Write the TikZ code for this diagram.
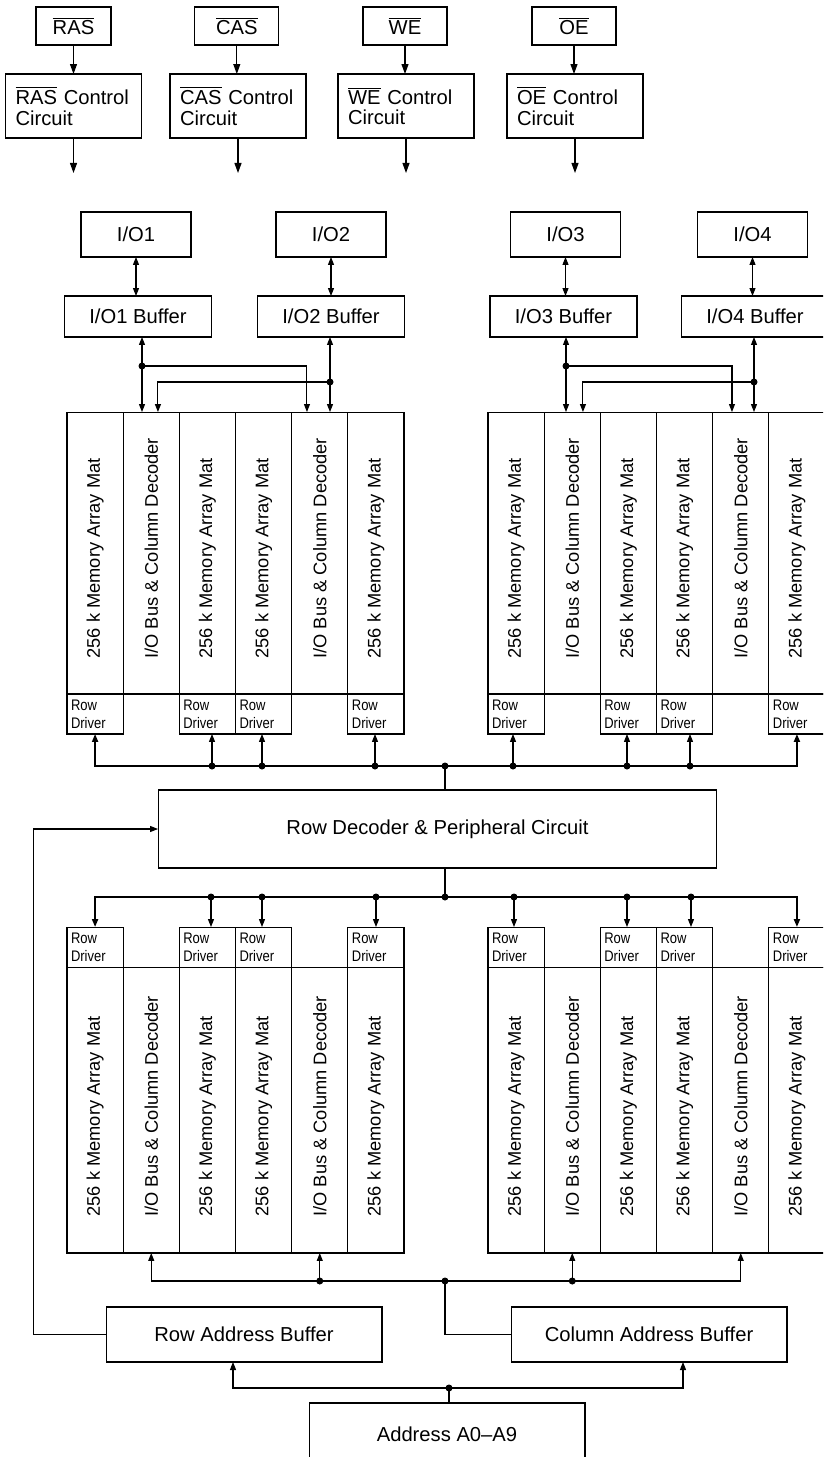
\documentclass[tikz,border=0pt]{standalone}
\usepackage{fontspec}
\setmainfont{Liberation Sans}
\newfontfamily\narrowfont[FakeStretch=0.85]{Liberation Sans}
\usetikzlibrary{arrows.meta}
\def\ov#1{$\overline{\mbox{#1}}$}
\def\mattxt{256 k Memory Array Mat}
\def\dectxt{I/O Bus \& Column Decoder}

\begin{document}
\begin{tikzpicture}[x=0.02cm, y=-0.02cm, line width=0.6pt,
	>={Triangle[length=1.6mm, width=1.2mm]},
	bigtip/.style={-{Triangle[length=2mm, width=1.4mm]}},
	box/.style={draw, inner sep=0pt, outer sep=0pt, font=\fontsize{11.5}{11.8}\selectfont},
	sig/.style={box, minimum width=1.68cm, minimum height=0.76cm},
	ctl/.style={box, align=left, text width=2.32cm, inner xsep=0.2cm, minimum height=1.28cm},
	io/.style={box, minimum width=2.2cm, minimum height=0.9cm},
	buf/.style={box, minimum width=2.94cm, minimum height=0.82cm},
	colup/.style={box, minimum width=1.1234cm, minimum height=5.64cm},
	collo/.style={box, minimum width=1.1234cm, minimum height=5.72cm},
	coltxt/.style={rotate=90, anchor=west, inner sep=0pt, font=\fontsize{10.4}{12}\selectfont},
	rd/.style={box, align=left, text width=0.963cm, inner xsep=0.08cm, minimum height=0.8cm,
		font=\narrowfont\fontsize{8.7}{10.2}\selectfont},
	abuf/.style={box, minimum width=5.52cm, minimum height=1.1cm},
	bus/.style={line width=1.1pt},
	dot/.style={fill=black}]
			%%%%% START %%%%%
			\useasboundingbox (0,0) rectangle (823,1457);
			\clip (0,0) rectangle (823,1457);
			
			% control inputs
			\node[sig, minimum width=1.5cm] (ras) at (73.5,26) {\ov{RAS}};
			\node[sig] (cas) at (236.8,26) {\ov{CAS}};
			\node[sig] (we) at (405,26) {\ov{WE}};
			\node[sig] (oe) at (574,26) {\ov{OE}};
			
			\node[ctl] (ctlras) at (73.5,106) {\ov{RAS} Control\\Circuit};
			\node[ctl] (ctlcas) at (238,106) {\ov{CAS} Control\\Circuit};
			\node[ctl] (ctlwe) at (406,106) {\ov{WE} Control\\Circuit};
			\node[ctl] (ctloe) at (575,106) {\ov{OE} Control\\Circuit};
			
			\foreach \s in {ras,cas,we,oe} {
				\draw[bigtip] (\s.south) -- (\s.south |- ctl\s.north);
				\draw[bigtip] (ctl\s.south) -- ++(0,35) coordinate (out\s);
			}
			
			% I/O pins and buffers
			\node[io] (io1) at (136,234.5) {I/O1};
			\node[io] (io2) at (331,234.5) {I/O2};
			\node[io] (io3) at (565.5,234.5) {I/O3};
			\node[io] (io4) at (752.5,234.5) {I/O4};
			
			\node[buf] (buf1) at (138,316.5) {I/O1 Buffer};
			\node[buf] (buf2) at (331,316.5) {I/O2 Buffer};
			\node[buf] (buf3) at (563.5,316.5) {I/O3 Buffer};
			\node[buf] (buf4) at (755,316.5) {I/O4 Buffer};
			
			\foreach \n in {1,...,4}
				\draw[<->] (io\n.south) -- (io\n.south |- buf\n.north);
			
			% memory mats
			\foreach \side/\bx in {l/67, r/488} {
				\foreach \i/\txt in {1/\mattxt, 2/\dectxt, 3/\mattxt, 4/\mattxt, 5/\dectxt, 6/\mattxt} {
					\node[colup] (up\side\i) at ({\bx+(\i-0.5)*56.17},553) {};
					\node[coltxt] (tup\side\i) at ([yshift=0.7cm]up\side\i.south) {\txt};
					\node[collo] (lo\side\i) at ({\bx+(\i-0.5)*56.17},1110) {};
					\node[coltxt] (tlo\side\i) at ([yshift=0.72cm]lo\side\i.south) {\txt};
				}
				\foreach \i in {1,3,4,6} {
					\node[rd, anchor=north] (rdup\side\i) at (up\side\i.south) {Row\\Driver};
					\node[rd, anchor=south] (rdlo\side\i) at (lo\side\i.north) {Row\\Driver};
				}
			}
			
			% buffers to I/O bus
			\coordinate (j1) at (142,366);
			\coordinate (j2) at (330,382);
			\coordinate (j3) at (566,366);
			\coordinate (j4) at (754,382);
			\draw[<->] (buf1.south -| j1) -- (j1 |- upl2.north);
			\draw[<->] (buf2.south -| j2) -- (j2 |- upl5.north);
			\draw[<->] (buf3.south -| j3) -- (j3 |- upr2.north);
			\draw[<->] (buf4.south -| j4) -- (j4 |- upr5.north);
			\draw[->] (j1) -| ([xshift=-0.256cm]upl5.north);
			\draw[->] (j2) -| ([xshift=0.134cm]upl2.north);
			\draw[->] (j3) -| ([xshift=-0.176cm]upr5.north);
			\draw[->] (j4) -| ([xshift=0.214cm]upr2.north);
			\foreach \n in {1,...,4} \fill[dot] (j\n) circle (0.07cm);
			
			% row decoder
			\node[box, minimum width=11.18cm, minimum height=1.56cm] (rowdec) at (437.5,829) {Row Decoder \& Peripheral Circuit};
			
			\coordinate (ub0) at (445,766);
			\draw (ub0) -- (ub0 |- rowdec.north);
			\draw[bus,->] (ub0) -| (rdupl1.south);
			\draw[bus,->] (ub0) -| (rdupr6.south);
			\foreach \x/\n in {212/l3, 262/l4, 375/l6, 513/r1, 627/r3, 690/r4} {
				\coordinate (ub\n) at (\x,766);
				\draw[->] (ub\n) -- (ub\n |- rdup\n.south);
				\fill[dot] (ub\n) circle (0.07cm);
			}
			\fill[dot] (ub0) circle (0.07cm);
			
			\coordinate (lb0) at (445,897);
			\draw (lb0) -- (lb0 |- rowdec.south);
			\draw[bus,->] (lb0) -| (rdlol1.north);
			\draw[bus,->] (lb0) -| (rdlor6.north);
			\foreach \x/\n in {211/l3, 262/l4, 376/l6, 514/r1, 627/r3, 691/r4} {
				\coordinate (lb\n) at (\x,897);
				\draw[->] (lb\n) -- (lb\n |- rdlo\n.north);
				\fill[dot] (lb\n) circle (0.07cm);
			}
			\fill[dot] (lb0) circle (0.07cm);
			
			% address buffers
			\node[abuf] (rab) at (244,1334.5) {Row Address Buffer};
			\node[abuf] (cab) at (649,1334.5) {Column Address Buffer};
			\node[box, minimum width=5.52cm, minimum height=1.24cm] (addr) at (447,1434) {Address A0--A9};
			
			\coordinate (cb0) at (445,1281);
			\draw[->] (cb0) -| (lol2.south);
			\draw[->] (cb0) -| (lor5.south);
			\foreach \n in {l5, r2} {
				\draw[->] (lo\n.south |- cb0) -- (lo\n.south);
				\fill[dot] (lo\n.south |- cb0) circle (0.07cm);
			}
			\draw (cb0) |- (cab.west);
			\fill[dot] (cb0) circle (0.07cm);
			
			\draw[->] (rab.west) -- ++(-73,0) |- (rowdec.west);
			
			\coordinate (ab0) at (449,1388);
			\draw (ab0) -- (ab0 |- addr.north);
			\draw[->] (ab0) -| ([xshift=-0.22cm]rab.south);
			\draw[->] (ab0) -| ([xshift=0.68cm]cab.south);
			\fill[dot] (ab0) circle (0.07cm);
			%%%%% END %%%%%
\end{tikzpicture}
\end{document}
